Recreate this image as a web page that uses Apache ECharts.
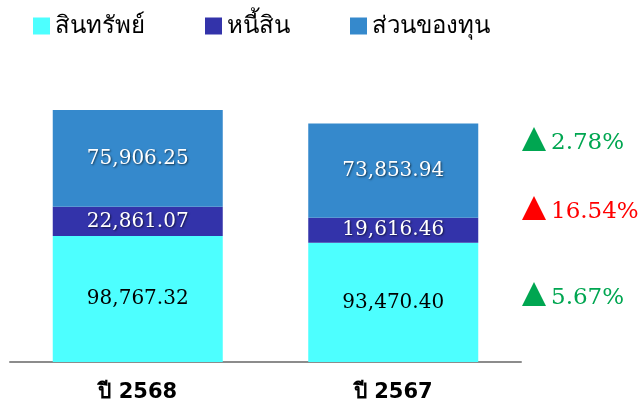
<!DOCTYPE html>
<html><head><meta charset="utf-8">
<script src="https://cdn.jsdelivr.net/npm/echarts@6/dist/echarts.min.js"></script>
<style>html,body{margin:0;padding:0;background:#fff}#c{width:643px;height:403px}</style>
</head><body><div id="c"></div>
<script>
const categories = ['ปี 2568', 'ปี 2567'];
const seriesNames = ['สินทรัพย์', 'หนี้สิน', 'ส่วนของทุน'];
const assets = [98767.32, 93470.40];
const liabilities = [22861.07, 19616.46];
const equity = [75906.25, 73853.94];
const changes = ['5.67%', '16.54%', '2.78%'];
const changeColors = ['#00A651', '#FF0000', '#00A651'];
const colors = ['#4DFFFF', '#3333AA', '#3589CC'];

const chart = echarts.init(document.getElementById('c'));
const fmt = v => v.toLocaleString('en-US', {minimumFractionDigits: 2, maximumFractionDigits: 2});
const numFont = '"DejaVu Serif", serif';
function mk(name, data, color, textColor, shadow) {
  return {
    name, type: 'bar', stack: 'total', data, barWidth: 170,
    itemStyle: {color},
    label: {
      show: true, position: 'inside', formatter: p => fmt(p.value),
      color: textColor, fontFamily: numFont, fontSize: 20,
      textShadowColor: shadow ? 'rgba(0,0,0,0.6)' : 'transparent',
      textShadowBlur: shadow ? 2 : 0, textShadowOffsetX: shadow ? 1 : 0, textShadowOffsetY: shadow ? 1 : 0
    },
    emphasis: {disabled: true}
  };
}
const yPos = [298, 212, 143];
const graphics = [];
changes.forEach((t, i) => {
  const y = yPos[i];
  graphics.push({type: 'polygon', shape: {points: [[534, y - 16], [546, y + 8], [522, y + 8]]}, style: {fill: changeColors[i]}});
  graphics.push({type: 'text', x: 551, y: y, style: {text: t, fill: changeColors[i], font: '23px "DejaVu Serif", serif', verticalAlign: 'middle'}});
});
chart.setOption({
  animation: false,
  legend: {
    left: 28, top: 9, itemWidth: 17, itemHeight: 17, itemGap: 60,
    icon: 'rect',
    textStyle: {fontSize: 24, color: '#000', fontFamily: '"Noto Sans", sans-serif'},
    data: seriesNames
  },
  grid: {left: 10, right: 122, top: 43, bottom: 41},
  xAxis: {
    type: 'category', data: categories,
    axisLine: {lineStyle: {color: '#8c8c8c', width: 2}},
    axisTick: {show: false},
    axisLabel: {fontSize: 21, fontWeight: 'bold', color: '#000', margin: 20, fontFamily: '"DejaVu Sans", sans-serif'}
  },
  yAxis: {type: 'value', min: 0, max: 250000, show: false, splitLine: {show: false}},
  series: [
    mk(seriesNames[0], assets, colors[0], '#000', false),
    mk(seriesNames[1], liabilities, colors[1], '#fff', true),
    mk(seriesNames[2], equity, colors[2], '#fff', true)
  ],
  graphic: graphics
});
</script></body></html>
